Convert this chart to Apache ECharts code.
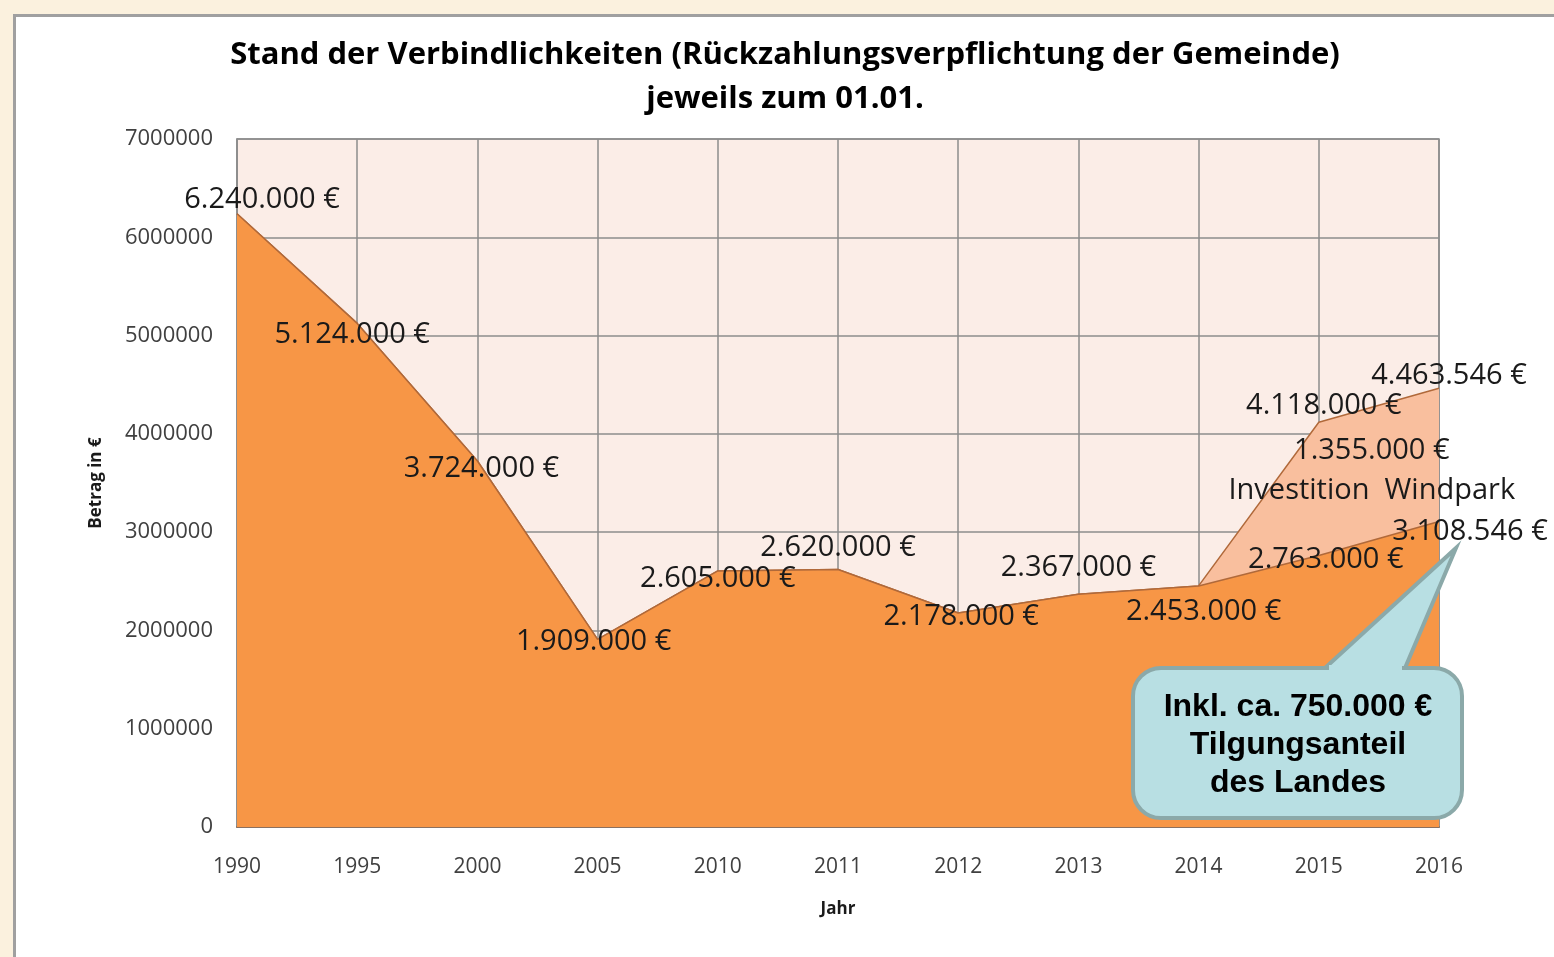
<!DOCTYPE html>
<html>
<head>
<meta charset="utf-8">
<script src="https://cdn.jsdelivr.net/npm/echarts@6/dist/echarts.min.js"></script>
<style>
    html, body { margin: 0; padding: 0; background: #fbf1de; overflow: hidden; }
    #panel { position: absolute; left: 13px; top: 14px; width: 1600px; height: 1000px;
             background: #fff; border-left: 3px solid #a0a0a0; border-top: 3px solid #a0a0a0; }
    #chart { position: absolute; left: 0; top: 0; width: 1554px; height: 957px; }
</style>
</head>
<body>
<div id="panel"></div>
<div id="chart"></div>
<script>
    // Jahre (jeweils zum 01.01.)
    const jahre = ['1990', '1995', '2000', '2005', '2010', '2011', '2012', '2013', '2014', '2015', '2016'];
    // Verbindlichkeiten ohne Windpark
    const verbindlichkeiten = [6240000, 5124000, 3724000, 1909000, 2605000, 2620000, 2178000, 2367000, 2453000, 2763000, 3108546];
    // Investition Windpark (on top)
    const windpark = [0, 0, 0, 0, 0, 0, 0, 0, 0, 1355000, 1355000];
    const yTicks = [0, 1000000, 2000000, 3000000, 4000000, 5000000, 6000000, 7000000];

    // label offsets (px), hand placed like in the excel original
    const baseOffsets = [[25, -14], [-5, 11], [4, 8], [-4, 2], [0, 8], [0, -22], [3, 4], [0, -27], [5, 26], [7, 4], [31, 10]];
    const sumOffsets = {9: [5, -17], 10: [10, -13]};

    const fmt = v => String(v).replace(/\B(?=(\d{3})+(?!\d))/g, '.') + ' €';
    const summe = jahre.map((j, i) => windpark[i] > 0 ? verbindlichkeiten[i] + windpark[i] : null);

    const labelFont = {fontFamily: 'Open Sans', fontSize: 29, color: '#1a1a1a'};
    const calloutFill = '#b8dfe3', calloutStroke = '#8ba9a9';

    const chart = echarts.init(document.getElementById('chart'));
    chart.setOption({
        backgroundColor: 'transparent',
        animation: false,
        grid: {
            left: 237, right: 115, top: 139, bottom: 130, show: true,
            backgroundColor: '#fbede7', borderColor: '#8c8c8c', borderWidth: 1.5
        },
        xAxis: {
            type: 'category', data: jahre, boundaryGap: false,
            name: 'Jahr', nameLocation: 'middle', nameGap: 74,
            nameTextStyle: {fontFamily: 'Open Sans', fontSize: 17, fontWeight: 'bold', color: '#1a1a1a'},
            axisLine: {lineStyle: {color: '#8a7060', width: 2}},
            axisTick: {show: false},
            axisLabel: {margin: 30, fontFamily: 'Open Sans', fontSize: 21, color: '#404040'},
            splitLine: {show: true, lineStyle: {color: '#8c8c8c', width: 1.5}}
        },
        yAxis: {
            type: 'value', min: yTicks[0], max: yTicks[yTicks.length - 1], interval: 1000000,
            name: 'Betrag in €', nameLocation: 'middle', nameGap: 132, nameRotate: 90,
            nameTextStyle: {fontFamily: 'Open Sans', fontSize: 17, fontWeight: 'bold', color: '#1a1a1a'},
            axisLine: {show: true, lineStyle: {color: '#8c8c8c', width: 1.5}},
            axisTick: {show: false},
            axisLabel: {margin: 24, fontFamily: 'Open Sans', fontSize: 22, color: '#404040', formatter: v => String(v)},
            splitLine: {show: true, lineStyle: {color: '#8c8c8c', width: 1.5}}
        },
        series: [
            {
                name: 'Verbindlichkeiten', type: 'line', stack: 'a',
                symbol: 'circle', symbolSize: 0.1, showSymbol: true,
                itemStyle: {color: 'rgba(0,0,0,0)'},
                lineStyle: {color: '#b0693a', width: 1.5},
                areaStyle: {color: '#f79646', opacity: 1},
                data: verbindlichkeiten.map((v, i) => ({
                    value: v,
                    label: {show: true, position: 'inside', offset: baseOffsets[i], formatter: fmt(v), ...labelFont}
                })),
                z: 3
            },
            {
                name: 'Investition Windpark', type: 'line', stack: 'a',
                symbol: 'circle', symbolSize: 0.1, showSymbol: true,
                itemStyle: {color: 'rgba(0,0,0,0)'},
                lineStyle: {color: '#b0693a', width: 1.5},
                areaStyle: {color: '#f9bf9e', opacity: 1},
                data: windpark.map((v, i) => ({
                    value: v,
                    label: i === 9 ? {
                        show: true, position: 'inside', offset: [53, 48], lineHeight: 40, align: 'center',
                        formatter: fmt(v) + '\nInvestition  Windpark', ...labelFont
                    } : {show: false}
                })),
                z: 2
            },
            {
                name: 'Summe', type: 'line',
                symbol: 'circle', symbolSize: 0.1,
                itemStyle: {color: 'rgba(0,0,0,0)'},
                lineStyle: {opacity: 0},
                data: summe.map((v, i) => ({
                    value: v,
                    label: v === null ? {show: false} : {
                        show: true, position: 'inside', offset: sumOffsets[i], formatter: fmt(v), ...labelFont
                    }
                })),
                z: 4
            }
        ],
        graphic: [
            {
                type: 'text', x: 785, y: 33, z: 100,
                style: {
                    text: 'Stand der Verbindlichkeiten (Rückzahlungsverpflichtung der Gemeinde)\njeweils zum 01.01.',
                    fontFamily: 'Open Sans', fontSize: 31, fontWeight: 'bold', lineHeight: 44,
                    fill: '#000', align: 'center', verticalAlign: 'top'
                }
            },
            {
                type: 'rect', z: 100,
                shape: {x: 1133, y: 668, width: 329, height: 150, r: 28},
                style: {fill: calloutFill, stroke: calloutStroke, lineWidth: 4}
            },
            {
                type: 'polygon', z: 101,
                shape: {points: [[1325, 668], [1456, 548], [1405, 668]]},
                style: {fill: calloutFill, stroke: calloutStroke, lineWidth: 4, lineJoin: 'miter'}
            },
            {
                type: 'rect', z: 102,
                shape: {x: 1329, y: 665, width: 73, height: 8},
                style: {fill: calloutFill}
            },
            {
                type: 'text', x: 1298, y: 745, z: 103,
                style: {
                    text: 'Inkl. ca. 750.000 €\nTilgungsanteil\ndes Landes',
                    fontFamily: 'Liberation Sans', fontSize: 32, fontWeight: 'bold', lineHeight: 38,
                    fill: '#000', align: 'center', verticalAlign: 'middle'
                }
            }
        ]
    });
</script>
</body>
</html>
